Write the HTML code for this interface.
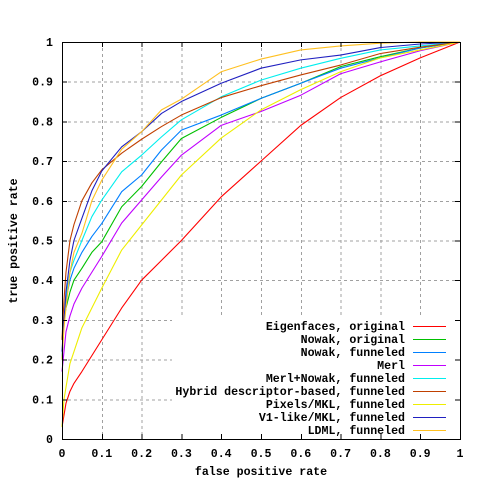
<!DOCTYPE html>
<html><head><meta charset="utf-8"><style>
body{margin:0;background:#fff;}
svg text{font-family:"Liberation Mono","DejaVu Sans Mono",monospace;font-weight:bold;font-size:11.6px;fill:#000;}
</style></head><body>
<svg id="chart" width="480" height="480" viewBox="0 0 480 480" xmlns="http://www.w3.org/2000/svg">
<rect width="480" height="480" fill="#fff"/>
<g id="grid"></g>
<g id="series"></g>
<g id="legendbox"></g>
<g id="axes"></g>
<text x="261" y="475" text-anchor="middle">false positive rate</text>
<text transform="translate(17,241) rotate(-90)" text-anchor="middle">true positive rate</text>
</svg>
<script>
const xTicks = [0,0.1,0.2,0.3,0.4,0.5,0.6,0.7,0.8,0.9,1];
const xTickLabels = ["0","0.1","0.2","0.3","0.4","0.5","0.6","0.7","0.8","0.9","1"];
const yTicks = [0,0.1,0.2,0.3,0.4,0.5,0.6,0.7,0.8,0.9,1];
const yTickLabels = ["0","0.1","0.2","0.3","0.4","0.5","0.6","0.7","0.8","0.9","1"];
const fpr = [0,0.005,0.01,0.02,0.03,0.05,0.075,0.1,0.15,0.2,0.25,0.3,0.4,0.5,0.6,0.7,0.8,0.9,1];
const seriesNames = ["Eigenfaces, original","Nowak, original","Nowak, funneled","Merl","Merl+Nowak, funneled","Hybrid descriptor-based, funneled","Pixels/MKL, funneled","V1-like/MKL, funneled","LDML, funneled"];
const tprEigen = [0.03,0.06,0.09,0.12,0.14,0.17,0.21,0.25,0.33,0.4,0.45,0.5,0.61,0.70,0.79,0.86,0.915,0.96,1];
const tprNowakOrig = [0.25,0.3,0.33,0.37,0.4,0.43,0.47,0.497,0.585,0.636,0.698,0.757,0.81,0.858,0.896,0.938,0.963,0.985,1];
const tprNowakFun = [0.2,0.3,0.35,0.4,0.43,0.47,0.51,0.543,0.623,0.665,0.728,0.778,0.816,0.858,0.896,0.934,0.96,0.985,1];
const tprMerl = [0.17,0.22,0.27,0.31,0.34,0.38,0.42,0.46,0.544,0.602,0.66,0.715,0.79,0.825,0.866,0.92,0.95,0.978,1];
const tprMerlNowak = [0.2,0.3,0.36,0.42,0.45,0.5,0.56,0.602,0.673,0.715,0.761,0.804,0.862,0.904,0.934,0.959,0.98,0.99,1];
const tprHybrid = [0.25,0.35,0.42,0.5,0.54,0.6,0.645,0.678,0.72,0.755,0.787,0.816,0.86,0.89,0.917,0.942,0.971,0.987,1];
const tprPixels = [0.03,0.1,0.13,0.19,0.22,0.28,0.33,0.38,0.476,0.539,0.602,0.665,0.758,0.829,0.88,0.925,0.96,0.98,1];
const tprV1 = [0.22,0.3,0.37,0.45,0.5,0.556,0.625,0.675,0.736,0.774,0.82,0.85,0.896,0.934,0.955,0.967,0.986,0.995,1];
const tprLDML = [0.2,0.28,0.33,0.42,0.47,0.518,0.6,0.652,0.73,0.774,0.829,0.856,0.925,0.957,0.98,0.99,0.997,1,1];
const allSeries = [tprEigen,tprNowakOrig,tprNowakFun,tprMerl,tprMerlNowak,tprHybrid,tprPixels,tprV1,tprLDML];
const colors = ["#ff0000","#00c000","#0080ff","#c000ff","#00eeee","#c04000","#eeee00","#2020c0","#ffc020"];
const slugs = ["eigenfaces-original","nowak-original","nowak-funneled","merl","merl-nowak-funneled","hybrid-funneled","pixels-mkl-funneled","v1-like-mkl-funneled","ldml-funneled"];

const L=62,R=460,T=42,B=439;
const sx = v => L + v*(R-L);
const sy = v => B - v*(B-T);
const NS="http://www.w3.org/2000/svg";
function mk(tag, attrs, parent){const e=document.createElementNS(NS,tag);for(const k in attrs)e.setAttribute(k,attrs[k]);parent.appendChild(e);return e;}

const grid=document.getElementById('grid');
xTicks.forEach((t,i)=>{ if(i>0&&i<xTicks.length-1){
  const l=mk('line',{x1:sx(t)+0.5,x2:sx(t)+0.5,y1:T,y2:B,stroke:'#a0a0a0','stroke-dasharray':'3,3','shape-rendering':'crispEdges'},grid);
  
  
}});
yTicks.forEach((t,i)=>{ if(i>0&&i<yTicks.length-1){
  const l=mk('line',{x1:L,x2:R,y1:sy(t)+0.5,y2:sy(t)+0.5,stroke:'#a0a0a0','stroke-dasharray':'3,3','shape-rendering':'crispEdges'},grid);
  
  
}});

const sg=document.getElementById('series');
allSeries.forEach((vals,i)=>{
  let d='';
  vals.forEach((v,j)=>{
    const x=sx(fpr[j]), y=sy(v);
    d += (j===0?'M':'L')+x.toFixed(2)+','+y.toFixed(2);
  });
  const p=mk('path',{d:d,fill:'none',stroke:colors[i],'stroke-width':1.1,'stroke-linejoin':'round'},sg);
  
  
});

const lg=document.getElementById('legendbox');
const bg=mk('rect',{x:172,y:318,width:287,height:120,fill:'#fff'},lg);


seriesNames.forEach((n,i)=>{
  const y=326+i*13;
  const g=mk('g',{},lg);
  
  
  const t=mk('text',{x:405,y:y+4,'text-anchor':'end'},g);
  t.textContent=n;
  mk('line',{x1:413,x2:446,y1:y+0.5,y2:y+0.5,stroke:colors[i],'stroke-width':1,'shape-rendering':'crispEdges'},g);
});

const ax=document.getElementById('axes');
const fr=mk('rect',{x:L+0.5,y:T+0.5,width:R-L,height:B-T,fill:'none',stroke:'#000','stroke-width':1,'shape-rendering':'crispEdges'},ax);


xTicks.forEach((t,i)=>{
  const x=sx(t)+0.5;
  mk('line',{x1:x,x2:x,y1:B,y2:B-5,stroke:'#000','shape-rendering':'crispEdges'},ax);
  mk('line',{x1:x,x2:x,y1:T,y2:T+5,stroke:'#000','shape-rendering':'crispEdges'},ax);
  const tx=mk('text',{x:sx(t),y:B+18,'text-anchor':'middle'},ax);
  
  
  tx.textContent=xTickLabels[i];
});
yTicks.forEach((t,i)=>{
  const y=sy(t)+0.5;
  mk('line',{x1:L,x2:L+5,y1:y,y2:y,stroke:'#000','shape-rendering':'crispEdges'},ax);
  mk('line',{x1:R,x2:R-5,y1:y,y2:y,stroke:'#000','shape-rendering':'crispEdges'},ax);
  const ty=mk('text',{x:53,y:sy(t)+4,'text-anchor':'end'},ax);
  
  
  ty.textContent=yTickLabels[i];
});
</script>
</body></html>
